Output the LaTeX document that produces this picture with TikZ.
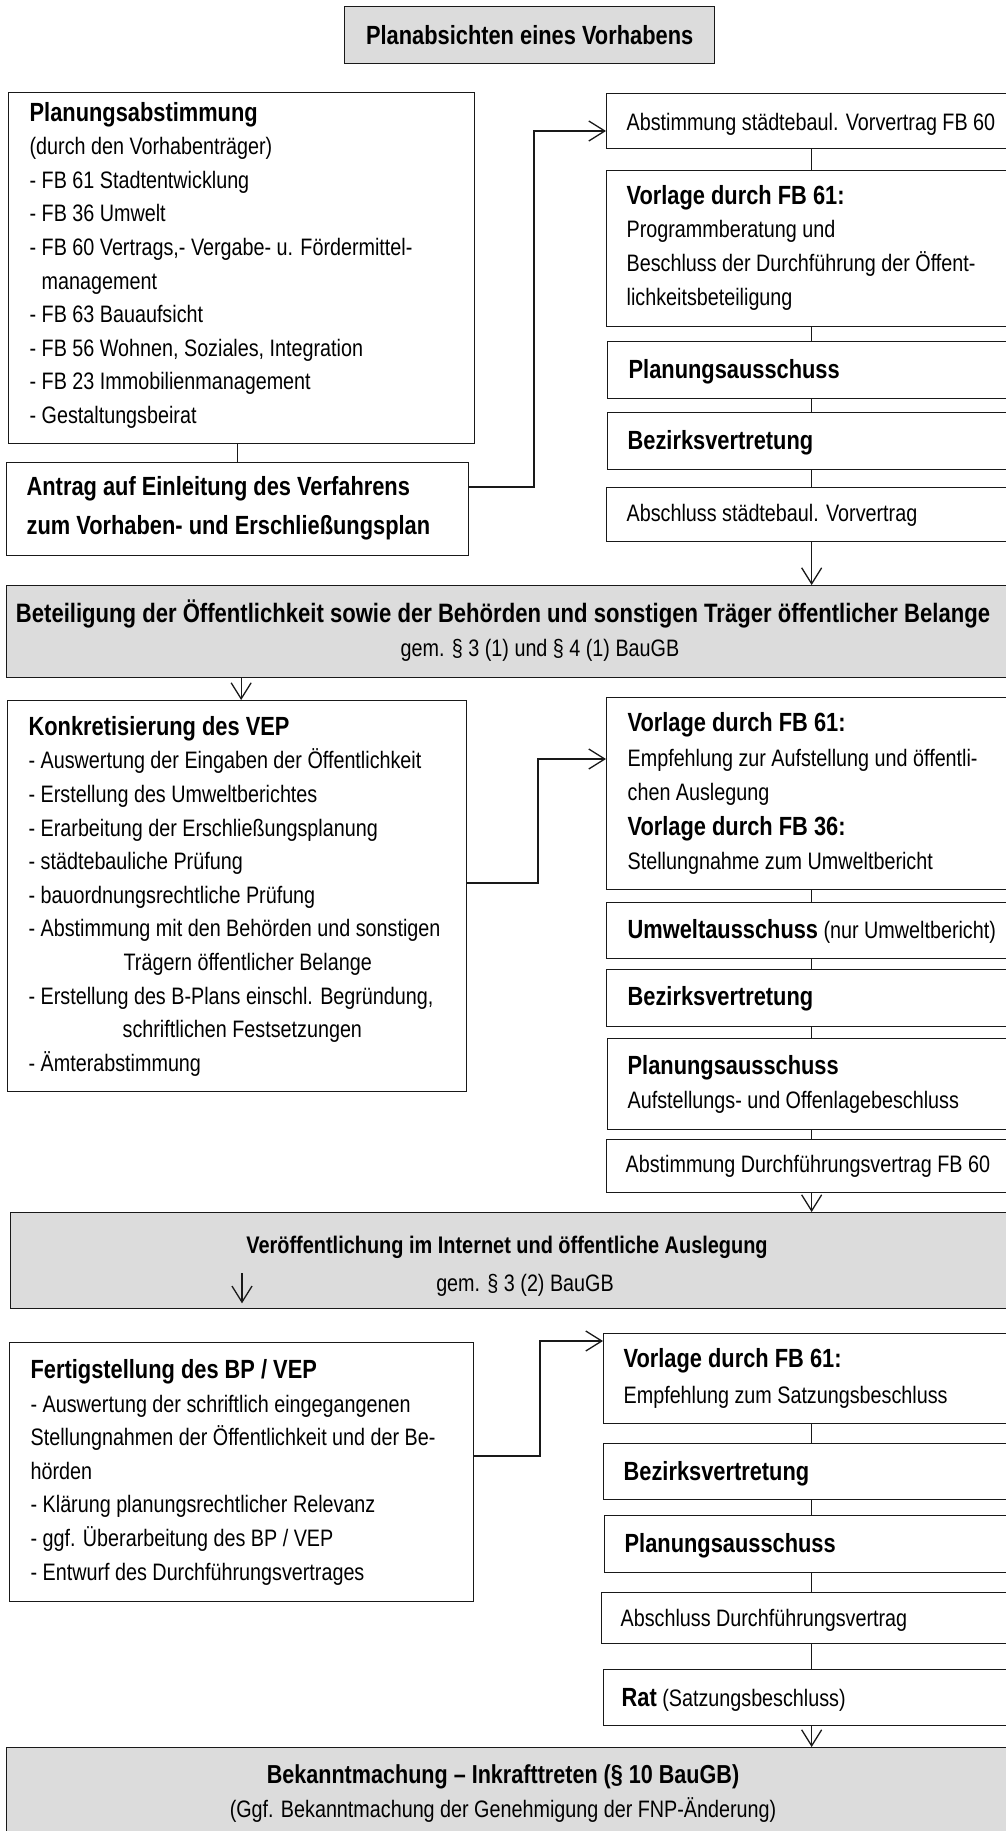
\documentclass[tikz,border=0pt]{standalone}
\usepackage{fontspec}
\setmainfont[FakeStretch=0.83]{Liberation Sans}
\usetikzlibrary{arrows.meta,calc}
\definecolor{bannergray}{RGB}{220,220,220}
\definecolor{edgecol}{RGB}{25,25,25}
\newcommand\hdf{\fontsize{26.3}{33.6}\selectfont\bfseries}
\newcommand\hdsmall{\fontsize{24}{33.6}\selectfont\bfseries}
\newcommand\bdf{\fontsize{23.8}{33.6}\selectfont}
\begin{document}
\begin{tikzpicture}[x=1pt,y=-1pt,line width=1.3pt,
  box/.style={draw=edgecol,rectangle,inner sep=0pt,anchor=north west},
  gbox/.style={box,fill=bannergray},
  txt/.style={anchor=west,align=left,inner sep=0pt,font=\bdf},
  ctxt/.style={anchor=center,align=center,inner sep=0pt,font=\bdf},
  conn/.style={draw=edgecol,line width=1.3pt},
  arr/.style={conn,-{Straight Barb[length=16pt,width=20pt]}}]
\useasboundingbox (0,0) rectangle (1006,1831);
\clip (0,0) rectangle (1006,1831);
\fill[white] (0,0) rectangle (1006,1831);

% ---------- boxes ----------
\node[gbox,minimum width=370pt,minimum height=57pt] (top) at (344,6) {};
\node[box,minimum width=466pt,minimum height=351pt] (plan) at (8,92) {};
\node[box,minimum width=462pt,minimum height=93pt] (antrag) at (6,462) {};
\node[box,minimum width=410pt,minimum height=55pt] (r1) at (606,93) {};
\node[box,minimum width=410pt,minimum height=156pt] (r2) at (606,170) {};
\node[box,minimum width=408pt,minimum height=57pt] (r3) at (607,341) {};
\node[box,minimum width=408pt,minimum height=57pt] (r4) at (607,412) {};
\node[box,minimum width=410pt,minimum height=54pt] (r5) at (606,487) {};
\node[gbox,minimum width=1020pt,minimum height=92pt] (ban1) at (6,585) {};
\node[box,minimum width=459pt,minimum height=391pt] (konk) at (7,700) {};
\node[box,minimum width=410pt,minimum height=192pt] (v1) at (606,697) {};
\node[box,minimum width=410pt,minimum height=56pt] (umw) at (606,902) {};
\node[box,minimum width=410pt,minimum height=57pt] (bez2) at (606,969) {};
\node[box,minimum width=408pt,minimum height=91pt] (pa2) at (607,1038) {};
\node[box,minimum width=410pt,minimum height=53pt] (adv) at (606,1139) {};
\node[gbox,minimum width=1016pt,minimum height=96pt] (ban2) at (10,1212) {};
\node[box,minimum width=464pt,minimum height=259pt] (fert) at (9,1342) {};
\node[box,minimum width=416pt,minimum height=90pt] (v3) at (603,1333) {};
\node[box,minimum width=416pt,minimum height=56pt] (bez3) at (603,1443) {};
\node[box,minimum width=414pt,minimum height=57pt] (pa3) at (604,1515) {};
\node[box,minimum width=420pt,minimum height=51pt] (ads) at (601,1592) {};
\node[box,minimum width=416pt,minimum height=56pt] (rat) at (603,1669) {};
\node[gbox,minimum width=1020pt,minimum height=100pt] (ban3) at (6,1747) {};

% ---------- texts ----------
\node[ctxt,font=\hdf] (toptxt) at (top.center) {Planabsichten eines Vorhabens};

\node[txt] (plantxt) at ([xshift=21pt,yshift=3pt]plan.west) {{\hdf Planungsabstimmung}\\
(durch den Vorhabenträger)\\
- FB 61 Stadtentwicklung\\
- FB 36 Umwelt\\
- FB 60 Vertrags,- Vergabe- u. Fördermittel-\\
\hphantom{- }management\\
- FB 63 Bauaufsicht\\
- FB 56 Wohnen, Soziales, Integration\\
- FB 23 Immobilienmanagement\\
- Gestaltungsbeirat};

\node[txt,font=\fontsize{26.3}{39}\selectfont\bfseries] (antragtxt) at ([xshift=20pt,yshift=1pt]antrag.west) {Antrag auf Einleitung des Verfahrens\\zum Vorhaben- und Erschließungsplan};

\node[txt] (r1txt) at ([xshift=20pt,yshift=-3pt]r1.west) {Abstimmung städtebaul. Vorvertrag FB 60};
\node[txt] (r2txt) at ([xshift=20pt,yshift=1pt]r2.west) {{\hdf Vorlage durch FB 61:}\\
Programmberatung und\\
Beschluss der Durchführung der Öffent-\\
lichkeitsbeteiligung};
\node[txt,font=\hdf] (r3txt) at ([xshift=21pt,yshift=-2pt]r3.west) {Planungsausschuss};
\node[txt,font=\hdf] (r4txt) at ([xshift=20pt,yshift=-2pt]r4.west) {Bezirksvertretung};
\node[txt] (r5txt) at ([xshift=20pt,yshift=-1pt]r5.west) {Abschluss städtebaul. Vorvertrag};

\node[ctxt,font=\fontsize{26.6}{30}\selectfont\bfseries] (ban1a) at (503,614) {Beteiligung der Öffentlichkeit sowie der Behörden und sonstigen Träger öffentlicher Belange};
\node[ctxt] (ban1b) at (540,650) {gem. § 3 (1) und § 4 (1) BauGB};

\node[txt] (konktxt) at ([xshift=21pt]konk.west) {{\hdf Konkretisierung des VEP}\\
- Auswertung der Eingaben der Öffentlichkeit\\
- Erstellung des Umweltberichtes\\
- Erarbeitung der Erschließungsplanung\\
- städtebauliche Prüfung\\
- bauordnungsrechtliche Prüfung\\
- Abstimmung mit den Behörden und sonstigen\\
\hspace*{95pt}Trägern öffentlicher Belange\\
- Erstellung des B-Plans einschl. Begründung,\\
\hspace*{94pt}schriftlichen Festsetzungen\\
- Ämterabstimmung};

\node[txt,font=\fontsize{23.8}{34.6}\selectfont] (v1txt) at ([xshift=21pt]v1.west) {{\fontsize{26.3}{34.6}\selectfont\bfseries Vorlage durch FB 61:}\\
Empfehlung zur Aufstellung und öffentli-\\
chen Auslegung\\
{\fontsize{26.3}{34.6}\selectfont\bfseries Vorlage durch FB 36:}\\
Stellungnahme zum Umweltbericht};
\node[txt] (umwtxt) at ([xshift=21pt,yshift=-1pt]umw.west) {{\hdf Umweltausschuss} (nur Umweltbericht)};
\node[txt,font=\hdf] (bez2txt) at ([xshift=21pt,yshift=-1pt]bez2.west) {Bezirksvertretung};
\node[txt] (pa2txt) at ([xshift=20pt]pa2.west) {{\hdf Planungsausschuss}\\Aufstellungs- und Offenlagebeschluss};
\node[txt] (advtxt) at ([xshift=19pt]adv.west) {Abstimmung Durchführungsvertrag FB 60};

\node[ctxt,font=\hdsmall] (ban2a) at (507,1247) {Veröffentlichung im Internet und öffentliche Auslegung};
\node[ctxt] (ban2b) at (525,1285) {gem. § 3 (2) BauGB};

\node[txt] (ferttxt) at ([xshift=21pt]fert.west) {{\hdf Fertigstellung des BP / VEP}\\
- Auswertung der schriftlich eingegangenen\\
Stellungnahmen der Öffentlichkeit und der Be-\\
hörden\\
- Klärung planungsrechtlicher Relevanz\\
- ggf. Überarbeitung des BP / VEP\\
- Entwurf des Durchführungsvertrages};

\node[txt,font=\fontsize{23.8}{36}\selectfont] (v3txt) at ([xshift=20pt]v3.west) {{\hdf Vorlage durch FB 61:}\\Empfehlung zum Satzungsbeschluss};
\node[txt,font=\hdf] (bez3txt) at ([xshift=20pt,yshift=-2pt]bez3.west) {Bezirksvertretung};
\node[txt,font=\hdf] (pa3txt) at ([xshift=20pt,yshift=-2pt]pa3.west) {Planungsausschuss};
\node[txt] (adstxt) at ([xshift=19pt,yshift=-2pt]ads.west) {Abschluss Durchführungsvertrag};
\node[txt] (rattxt) at ([xshift=18pt,yshift=-2pt]rat.west) {{\hdf Rat} (Satzungsbeschluss)};

\node[ctxt,font=\fontsize{26}{30}\selectfont\bfseries] (ban3a) at (503,1777) {Bekanntmachung – Inkrafttreten (§ 10 BauGB)};
\node[ctxt] (ban3b) at (503,1810) {(Ggf. Bekanntmachung der Genehmigung der FNP-Änderung)};

% ---------- connectors ----------
\draw[conn] (antrag.north |- plan.south) -- (antrag.north);
\coordinate (a1) at ($(antrag.north east)+(0,25)$);
\coordinate (j1) at (534,0);
\coordinate (r1in) at ($(r1.north west)+(0,38)$);
\draw[arr] (a1) -- (a1 -| j1) |- (r1in);
\draw[conn] (r1.south) -- (r2.north);
\draw[conn] (r2.south) -- (r3.north);
\draw[conn] (r3.south) -- (r4.north);
\draw[conn] (r4.south) -- (r5.north);
\draw[arr] (r5.south) -- (r5.south |- ban1.north);
\draw[arr] ([xshift=4pt]konk.north |- ban1.south) -- ([xshift=4pt]konk.north);

\coordinate (k1) at ($(konk.north east)+(0,183)$);
\coordinate (j2) at (538,0);
\coordinate (v1in) at ($(v1.north west)+(0,62)$);
\draw[arr] (k1) -- (k1 -| j2) |- (v1in);
\draw[conn] (v1.south) -- (umw.north);
\draw[conn] (umw.south) -- (bez2.north);
\draw[conn] (bez2.south) -- (pa2.north);
\draw[conn] (pa2.south) -- (adv.north);
\draw[arr] (adv.south) -- (adv.south |- ban2.north);
\draw[arr] ($(ban2.south west)+(232,-36)$) -- ($(ban2.south west)+(232,-6)$);

\coordinate (f1) at ($(fert.north east)+(0,114)$);
\coordinate (j3) at (540,0);
\coordinate (v3in) at ($(v3.north west)+(0,8)$);
\draw[arr] (f1) -- (f1 -| j3) |- (v3in);
\draw[conn] (v3.south) -- (bez3.north);
\draw[conn] (bez3.south) -- (pa3.north);
\draw[conn] (pa3.south) -- (ads.north);
\draw[conn] (ads.south) -- (rat.north);
\draw[arr] (rat.south) -- (rat.south |- ban3.north);
\end{tikzpicture}
\end{document}
